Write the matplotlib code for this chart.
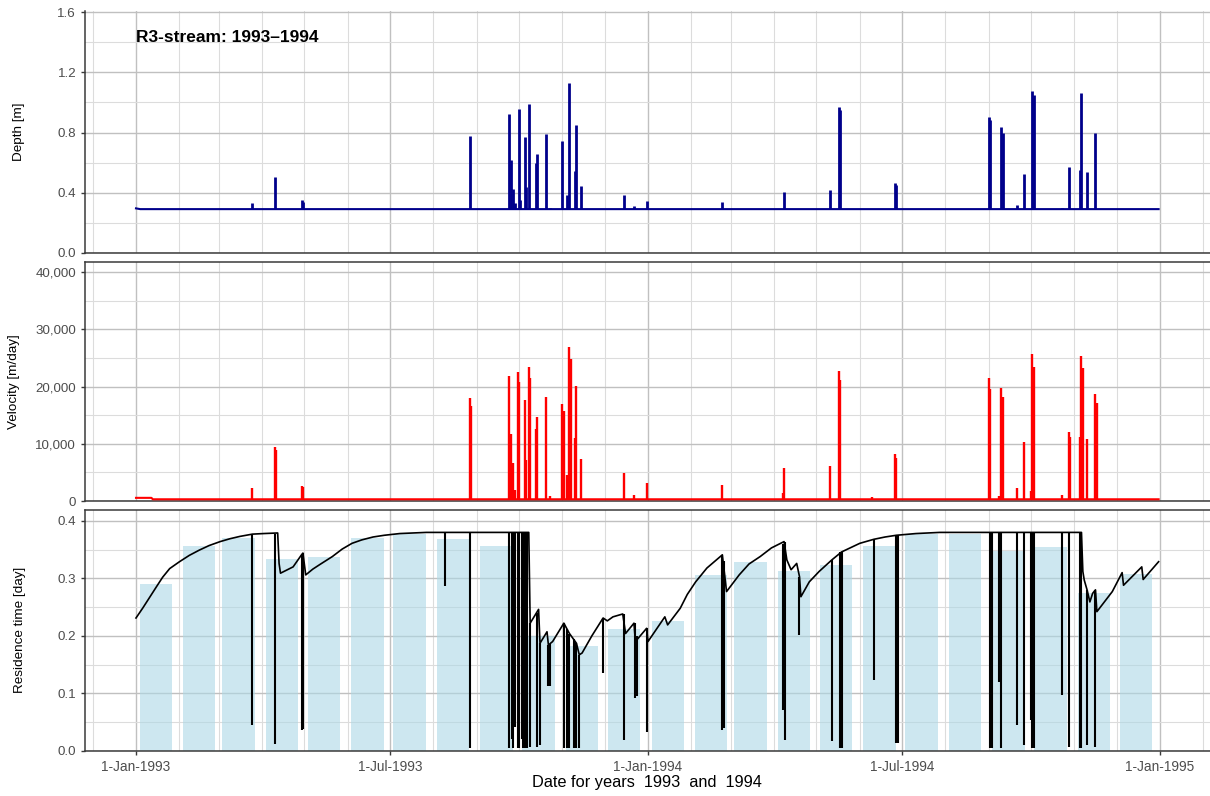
import matplotlib
matplotlib.use("Agg")
import matplotlib.pyplot as plt
import matplotlib.dates as mdates
from matplotlib.ticker import FixedLocator, MultipleLocator, FuncFormatter
import pandas as pd

plt.rcParams['font.family'] = ['Liberation Sans', 'DejaVu Sans']

# ---------------- data ----------------
title_text = "R3-stream: 1993\u20131994"
x_title = "Date for years  1993  and  1994"
y_titles = ["Depth [m]", "Velocity [m/day]", "Residence time [day]"]
x_tick_dates = ["1993-01-01", "1993-07-01", "1994-01-01", "1994-07-01", "1995-01-01"]
x_tick_labels = ["1-Jan-1993", "1-Jul-1993", "1-Jan-1994", "1-Jul-1994", "1-Jan-1995"]

# depth baseline and event peaks
depth_base_dates = ["1993-01-01", "1993-01-04", "1994-12-31"]
depth_base_vals = [0.295, 0.290, 0.290]
DEPTH_BASE = 0.29
depth_spike_dates = ["1993-03-25", "1993-04-10", "1993-04-29", "1993-04-30", "1993-08-27",
                     "1993-09-24", "1993-09-25", "1993-09-27", "1993-09-28", "1993-10-01",
                     "1993-10-02", "1993-10-05", "1993-10-06", "1993-10-08", "1993-10-13",
                     "1993-10-14", "1993-10-20", "1993-10-23", "1993-11-01", "1993-11-04",
                     "1993-11-06", "1993-11-10", "1993-11-11", "1993-11-14", "1993-12-15",
                     "1993-12-22", "1993-12-31", "1994-02-23", "1994-04-08", "1994-05-11",
                     "1994-05-17", "1994-05-18", "1994-06-26", "1994-06-27", "1994-09-01",
                     "1994-09-02", "1994-09-10", "1994-09-11", "1994-09-21", "1994-09-26",
                     "1994-10-02", "1994-10-03", "1994-10-23", "1994-10-28", "1994-11-05",
                     "1994-11-06", "1994-11-10", "1994-11-16"]
depth_spike_peaks = [0.333, 0.506, 0.351, 0.340, 0.777, 0.923, 0.620, 0.424, 0.330, 0.954,
                     0.350, 0.768, 0.440, 0.990, 0.595, 0.660, 0.788, 0.300, 0.743, 0.384,
                     1.131, 0.546, 0.850, 0.444, 0.384, 0.310, 0.343, 0.340, 0.403, 0.420,
                     0.970, 0.950, 0.464, 0.450, 0.902, 0.880, 0.836, 0.800, 0.320, 0.524,
                     1.076, 1.050, 0.300, 0.572, 0.550, 1.061, 0.539, 0.800]

# velocity baseline and event peaks
vel_base_dates = ["1993-01-01", "1993-01-12", "1993-01-13", "1994-12-31"]
vel_base_vals = [550, 550, 300, 300]
VEL_BASE = 300
vel_spike_dates = ["1993-03-25", "1993-04-10", "1993-04-11", "1993-04-29", "1993-04-30",
                   "1993-08-27", "1993-08-28", "1993-09-24", "1993-09-25", "1993-09-27",
                   "1993-09-28", "1993-09-30", "1993-10-01", "1993-10-05", "1993-10-06",
                   "1993-10-08", "1993-10-09", "1993-10-13", "1993-10-14", "1993-10-20",
                   "1993-10-23", "1993-11-01", "1993-11-02", "1993-11-04", "1993-11-06",
                   "1993-11-07", "1993-11-10", "1993-11-11", "1993-11-14", "1993-12-15",
                   "1993-12-22", "1993-12-31", "1994-02-23", "1994-04-07", "1994-04-08",
                   "1994-05-11", "1994-05-17", "1994-05-18", "1994-06-10", "1994-06-26",
                   "1994-06-27", "1994-09-01", "1994-09-02", "1994-09-08", "1994-09-10",
                   "1994-09-11", "1994-09-21", "1994-09-26", "1994-10-01", "1994-10-02",
                   "1994-10-03", "1994-10-23", "1994-10-28", "1994-10-29", "1994-11-05",
                   "1994-11-06", "1994-11-07", "1994-11-10", "1994-11-16", "1994-11-17"]
vel_spike_peaks = [2200, 9500, 9000, 2600, 2400,
                   17950, 16600, 21850, 11800, 6600,
                   1900, 22500, 20860, 17650, 7170,
                   23480, 21560, 12530, 14630, 18240,
                   870, 16960, 15730, 4550, 26980,
                   24770, 10960, 20100, 7290, 4950,
                   1050, 3090, 2800, 1350, 5700,
                   6170, 22780, 21200, 750, 8220,
                   7460, 21450, 19550, 870, 19700,
                   18240, 2330, 10260, 1800, 25640,
                   23490, 1050, 12000, 11130, 11130,
                   25350, 23200, 10840, 18700, 17190]

# residence time: monthly mean bars
bar_months = pd.date_range("1993-01-01", periods=24, freq="MS")
bar_vals = [0.290, 0.356, 0.371, 0.334, 0.338, 0.371, 0.377, 0.369, 0.356, 0.200, 0.182, 0.212,
            0.226, 0.306, 0.329, 0.312, 0.323, 0.356, 0.377, 0.378, 0.347, 0.355, 0.275, 0.308]

# residence time curve (vertices)
res_dates = ["1993-01-01", "1993-01-06", "1993-01-11", "1993-01-16", "1993-01-20", "1993-01-25",
             "1993-02-01", "1993-02-08", "1993-02-15", "1993-02-22", "1993-03-02", "1993-03-09",
             "1993-03-16", "1993-03-25", "1993-04-02", "1993-04-12", "1993-04-13", "1993-04-14",
             "1993-04-23", "1993-04-29", "1993-04-30", "1993-05-02", "1993-05-07", "1993-05-12",
             "1993-05-21", "1993-05-28", "1993-06-04", "1993-06-11", "1993-06-19", "1993-06-27",
             "1993-07-08", "1993-07-27", "1993-10-08", "1993-10-09",
             "1993-10-15", "1993-10-16", "1993-10-21", "1993-10-22", "1993-10-25", "1993-11-02",
             "1993-11-06", "1993-11-11", "1993-11-13", "1993-11-15", "1993-11-22", "1993-11-30",
             "1993-12-03", "1993-12-07", "1993-12-14", "1993-12-16", "1993-12-22", "1993-12-23",
             "1993-12-31", "1994-01-01", "1994-01-13", "1994-01-15", "1994-01-24", "1994-01-29",
             "1994-02-04", "1994-02-12", "1994-02-23", "1994-02-26", "1994-03-07", "1994-03-14",
             "1994-03-22", "1994-03-30", "1994-04-08", "1994-04-10", "1994-04-13",
             "1994-04-17", "1994-04-19", "1994-04-20", "1994-04-26", "1994-05-03", "1994-05-12",
             "1994-05-19", "1994-06-01", "1994-06-11", "1994-06-19", "1994-06-27", "1994-07-11",
             "1994-07-28", "1994-11-06", "1994-11-07", "1994-11-08", "1994-11-10", "1994-11-12",
             "1994-11-14", "1994-11-16", "1994-11-17", "1994-11-28", "1994-12-05", "1994-12-06",
             "1994-12-19", "1994-12-20", "1994-12-31"]
res_vals = [0.231, 0.249, 0.268, 0.287, 0.302, 0.317,
            0.329, 0.340, 0.349, 0.357, 0.364, 0.369,
            0.373, 0.377, 0.378, 0.379, 0.326, 0.309,
            0.320, 0.341, 0.344, 0.306, 0.316, 0.324,
            0.338, 0.351, 0.361, 0.367, 0.372, 0.375,
            0.378, 0.380, 0.380, 0.222,
            0.246, 0.187, 0.207, 0.184, 0.190, 0.222,
            0.204, 0.187, 0.167, 0.170, 0.200, 0.231,
            0.226, 0.233, 0.238, 0.204, 0.222, 0.190,
            0.213, 0.190, 0.233, 0.219, 0.248, 0.272,
            0.294, 0.318, 0.341, 0.277, 0.306, 0.325,
            0.338, 0.353, 0.364, 0.332, 0.315,
            0.326, 0.303, 0.268, 0.294, 0.312, 0.332,
            0.346, 0.361, 0.368, 0.372, 0.375, 0.378,
            0.380, 0.380, 0.312, 0.297, 0.280, 0.259,
            0.274, 0.280, 0.242, 0.277, 0.310, 0.288,
            0.320, 0.298, 0.329]

# residence time drops during events
drop_dates = ["1993-03-25", "1993-04-10", "1993-04-29", "1993-04-30", "1993-08-09", "1993-08-27",
              "1993-09-24", "1993-09-26", "1993-09-27", "1993-09-28", "1993-09-30", "1993-10-01",
              "1993-10-03", "1993-10-04", "1993-10-05", "1993-10-07", "1993-10-09", "1993-10-14",
              "1993-10-16", "1993-10-22", "1993-10-23", "1993-11-02", "1993-11-04", "1993-11-06",
              "1993-11-09", "1993-11-11", "1993-11-13", "1993-11-30", "1993-12-15", "1993-12-23",
              "1993-12-24", "1993-12-31", "1994-02-23", "1994-02-24", "1994-04-07", "1994-04-09",
              "1994-04-19", "1994-05-12", "1994-05-18", "1994-05-19", "1994-06-11", "1994-06-27",
              "1994-06-28", "1994-09-02", "1994-09-03", "1994-09-08", "1994-09-10", "1994-09-21",
              "1994-09-26", "1994-10-01", "1994-10-02", "1994-10-03", "1994-10-23", "1994-10-28",
              "1994-11-05", "1994-11-06", "1994-11-10", "1994-11-16"]
drop_mins = [0.045, 0.011, 0.036, 0.038, 0.286, 0.005,
             0.004, 0.020, 0.004, 0.042, 0.004, 0.004,
             0.020, 0.004, 0.004, 0.004, 0.007, 0.007,
             0.010, 0.112, 0.112, 0.005, 0.005, 0.005,
             0.005, 0.005, 0.005, 0.135, 0.019, 0.091,
             0.095, 0.033, 0.036, 0.040, 0.071, 0.019,
             0.201, 0.017, 0.004, 0.004, 0.123, 0.013,
             0.013, 0.004, 0.004, 0.120, 0.004, 0.045,
             0.010, 0.053, 0.004, 0.004, 0.097, 0.007,
             0.004, 0.004, 0.010, 0.006]
drop_tops = [0.377, 0.378, 0.341, 0.344, 0.380, 0.380,
             0.380, 0.380, 0.380, 0.380, 0.380, 0.380,
             0.380, 0.380, 0.380, 0.380, 0.222, 0.240,
             0.187, 0.184, 0.186, 0.222, 0.212, 0.204,
             0.195, 0.187, 0.167, 0.231, 0.238, 0.222,
             0.200, 0.213, 0.341, 0.330, 0.360, 0.364,
             0.303, 0.332, 0.346, 0.346, 0.368, 0.375,
             0.375, 0.380, 0.380, 0.380, 0.380, 0.380,
             0.380, 0.380, 0.380, 0.380, 0.380, 0.380,
             0.380, 0.380, 0.280, 0.280]

# ---------------- figure ----------------
W, H = 1210, 796
fig = plt.figure(figsize=(W / 100, H / 100), dpi=100)

def rect(top_px, bottom_px, left_px=84.8, right_px=1210):
    return [left_px / W, 1 - bottom_px / H, (right_px - left_px) / W, (bottom_px - top_px) / H]

ax1 = fig.add_axes(rect(10.8, 252.7))
ax2 = fig.add_axes(rect(261.7, 501.0))
ax3 = fig.add_axes(rect(510.0, 750.7))
axes = [ax1, ax2, ax3]

to_dt = lambda lst: pd.to_datetime(lst)
x_start = pd.Timestamp("1993-01-01")
px_per_day = 1024 / 730
xmin = x_start - pd.Timedelta(days=51.2 / px_per_day)
xmax = xmin + pd.Timedelta(days=(1210 - 84.8) / px_per_day)

SPINE = "#3a3a3a"
MAJ = "#c0c0c0"
MIN = "#dcdcdc"
TXT = "#4d4d4d"

for ax in axes:
    ax.set_xlim(xmin, xmax)
    ax.xaxis.set_major_locator(FixedLocator(mdates.date2num(to_dt(x_tick_dates))))
    ax.xaxis.set_minor_locator(mdates.MonthLocator())
    ax.set_axisbelow(True)
    ax.grid(which="major", color=MAJ, lw=1.0)
    ax.grid(which="minor", color=MIN, lw=0.8)
    for s in ["left", "bottom", "top"]:
        ax.spines[s].set_color(SPINE)
        ax.spines[s].set_linewidth(1.1)
    ax.spines["right"].set_visible(False)
    ax.tick_params(axis="y", which="major", length=3, width=1, color=SPINE,
                   labelsize=9.6, labelcolor=TXT, pad=3.2)
    ax.tick_params(which="minor", length=0)

ax1.spines["top"].set_visible(False)
for ax in (ax1, ax2):
    ax.tick_params(axis="x", which="both", length=0, labelbottom=False)
ax3.set_xticklabels(x_tick_labels)
ax3.tick_params(axis="x", which="major", length=3, width=1, color=SPINE,
                labelsize=9.8, labelcolor=TXT, pad=3.5)

# --- depth panel ---
ax1.set_ylim(0, 1.61)
ax1.yaxis.set_major_locator(MultipleLocator(0.4))
ax1.yaxis.set_minor_locator(MultipleLocator(0.2))
ax1.yaxis.set_major_formatter(FuncFormatter(lambda v, p: f"{v:.1f}"))
ax1.plot(to_dt(depth_base_dates), depth_base_vals, color="#00008B", lw=1.5, zorder=3)
ax1.vlines(to_dt(depth_spike_dates), DEPTH_BASE, depth_spike_peaks, color="#00008B", lw=2.0, zorder=3)
ax1.text(x_start, 1.435, title_text, fontsize=12.5, fontweight="bold", ha="left", va="center")

# --- velocity panel ---
ax2.set_ylim(0, 41840)
ax2.yaxis.set_major_locator(MultipleLocator(10000))
ax2.yaxis.set_minor_locator(MultipleLocator(5000))
ax2.yaxis.set_major_formatter(FuncFormatter(lambda v, p: f"{v:,.0f}"))
ax2.plot(to_dt(vel_base_dates), vel_base_vals, color="#FF0000", lw=1.5, zorder=3)
ax2.vlines(to_dt(vel_spike_dates), VEL_BASE, vel_spike_peaks, color="#FF0000", lw=1.7, zorder=3)

# --- residence panel ---
ax3.set_ylim(0, 0.419)
ax3.yaxis.set_major_locator(MultipleLocator(0.1))
ax3.yaxis.set_minor_locator(MultipleLocator(0.05))
ax3.yaxis.set_major_formatter(FuncFormatter(lambda v, p: f"{v:.1f}"))
bar_centers = bar_months + pd.Timedelta(days=14)
ax3.bar(bar_centers, bar_vals, width=23, color="#ADD8E6", alpha=0.6, zorder=1)
ax3.plot(to_dt(res_dates), res_vals, color="black", lw=1.2, zorder=3)
ax3.vlines(to_dt(drop_dates), drop_mins, drop_tops, color="black", lw=1.5, zorder=3)

# --- axis titles ---
panel_mid = [(10.8 + 252.7) / 2, (261.7 + 501.0) / 2, (510.0 + 750.7) / 2]
label_x = [19, 14.5, 20.5]
for t, ym, xl in zip(y_titles, panel_mid, label_x):
    fig.text(xl / W, 1 - ym / H, t, rotation=90, ha="center", va="center", fontsize=9.7)
fig.text(647 / W, 1 - 782.5 / H, x_title, ha="center", va="center", fontsize=11.8)

fig.savefig("out.png", dpi=100)
